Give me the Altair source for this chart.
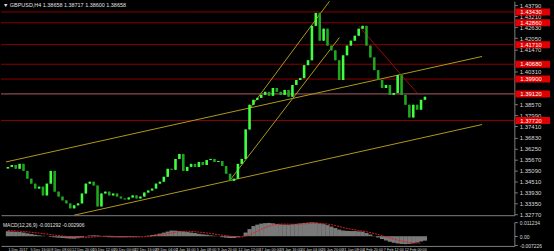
import altair as alt
import pandas as pd

# ---------------- data ----------------
closes = [1.3528, 1.3538, 1.3518, 1.3544, 1.3507, 1.3466, 1.3440, 1.3414, 1.3424, 1.3378,
          1.3440, 1.3507, 1.3398, 1.3372, 1.3352, 1.3336, 1.3310, 1.3326, 1.3336, 1.3388,
          1.3440, 1.3450, 1.3430, 1.3320, 1.3388, 1.3398, 1.3378, 1.3388, 1.3372, 1.3362,
          1.3357, 1.3367, 1.3378, 1.3362, 1.3372, 1.3393, 1.3404, 1.3414, 1.3440, 1.3450,
          1.3476, 1.3518, 1.3513, 1.3570, 1.3596, 1.3507, 1.3528, 1.3544, 1.3528, 1.3554,
          1.3538, 1.3564, 1.3570, 1.3554, 1.3559, 1.3533, 1.3492, 1.3455, 1.3466, 1.3544,
          1.3570, 1.3725, 1.3855, 1.3881, 1.3891, 1.3907, 1.3923, 1.3902, 1.3943, 1.3923,
          1.3907, 1.3933, 1.3897, 1.3959, 1.3985, 1.3995, 1.4063, 1.4089, 1.4270, 1.4338,
          1.4192, 1.4255, 1.4166, 1.4141, 1.4089, 1.3985, 1.4115, 1.4166, 1.4192, 1.4218,
          1.4255, 1.4270, 1.4166, 1.4104, 1.4037, 1.3985, 1.3943, 1.3959, 1.3907, 1.3917,
          1.4011, 1.3907, 1.3855, 1.3788, 1.3855, 1.3829, 1.3881, 1.3897]
first_open = 1.3520
bar_step = 3

macd_hist = [0.00390, 0.00374, 0.00350, 0.00334, 0.00295, 0.00231, 0.00175, 0.00119, 0.00072, 0.00032,
             -0.00008, -0.00048, -0.00088, -0.00119, -0.00143, -0.00167, -0.00191, -0.00199, -0.00159, -0.00103,
             -0.00024, 0.00056, 0.00072, 0.00056, 0.00016, -0.00048, -0.00080, -0.00088, -0.00088, -0.00088,
             -0.00080, -0.00064, -0.00056, -0.00048, -0.00024, 0.00000, 0.00040, 0.00096, 0.00135, 0.00207,
             0.00287, 0.00374, 0.00454, 0.00446, 0.00414, 0.00382, 0.00334, 0.00295, 0.00255, 0.00191,
             0.00151, 0.00119, 0.00072, 0.00032, -0.00008, -0.00080, -0.00119, -0.00143, -0.00143, -0.00080,
             0.00016, 0.00295, 0.00573, 0.00812, 0.00931, 0.01011, 0.01051, 0.01067, 0.01035, 0.00987,
             0.00947, 0.00931, 0.00923, 0.00955, 0.00987, 0.01027, 0.01067, 0.01091, 0.01114, 0.01091,
             0.01027, 0.00971, 0.00892, 0.00772, 0.00653, 0.00533, 0.00454, 0.00430, 0.00414, 0.00414,
             0.00390, 0.00366, 0.00255, 0.00135, 0.00016, -0.00103, -0.00223, -0.00342, -0.00446, -0.00525,
             -0.00581, -0.00621, -0.00637, -0.00621, -0.00565, -0.00501, -0.00422, -0.00358]
signal_step = 6
macd_signal = [0.0045, 0.0042, 0.0038, 0.0032, 0.0025, 0.0017, 0.0009, 0.0002, -0.0005, -0.0010,
               -0.0011, -0.0006, 0.0000, 0.0001, -0.0003, -0.0006, -0.0007, -0.0006, -0.0002, 0.0005,
               0.0014, 0.0026, 0.0036, 0.0040, 0.0036, 0.0030, 0.0022, 0.0013, 0.0004, -0.0004,
               -0.0006, 0.0010, 0.0040, 0.0070, 0.0090, 0.0098, 0.0097, 0.0096, 0.0099, 0.0103,
               0.0104, 0.0098, 0.0086, 0.0070, 0.0056, 0.0046, 0.0036, 0.0022, 0.0005, -0.0014,
               -0.0032, -0.0046, -0.0054, -0.0055]

level_prices = [1.4343, 1.4286, 1.4171, 1.4068, 1.3990, 1.3912, 1.3772]
level_kinds = ["dark", "dark", "dark", "dark", "dark", "light", "dark"]

# price scale labels (the ones hidden under the level boxes are left out)
price_ticks = [1.43790, 1.43210, 1.42630, 1.42050, 1.41470, 1.40310, 1.38570,
               1.37990, 1.37410, 1.36830, 1.36250, 1.35670, 1.35090, 1.34510, 1.33930, 1.33350, 1.32770]

time_tick_bars = [0, 17, 33, 49, 65, 81, 97, 113, 129, 145, 161, 177, 193, 209, 225, 241, 257, 273, 289, 305]
time_labels = ["1 Dec 2017", "5 Dec 16:00", "8 Dec 08:00", "12 Dec 20:00", "15 Dec 12:00", "20 Dec 00:00",
               "22 Dec 16:00", "28 Dec 04:00", "2 Jan 16:00", "5 Jan 08:00", "9 Jan 20:00", "12 Jan 12:00",
               "17 Jan 00:00", "19 Jan 16:00", "24 Jan 04:00", "26 Jan 20:00", "31 Jan 08:00", "4 Feb 20:00",
               "7 Feb 12:00", "12 Feb 00:00"]

line_names = ["upper", "lower", "steepA", "steepB", "diag"]
line_bar0 = [-1.5, 50.9, 170.6, 185.5, 270.0]
line_price0 = [1.3554, 1.3274, 1.3455, 1.3829, 1.4270]
line_bar1 = [365.0, 365.0, 255.1, 247.6, 314.9]
line_price1 = [1.4109, 1.3751, 1.4208, 1.4400, 1.3917]
line_kinds = ["trend", "trend", "trend", "trend", "red"]

macd_ticks = [0.0112, 0.0, -0.0072]
macd_tick_labels = ["0.011234", "0.00", "-0.007226"]

title_text = "\u25BC GBPUSD,H4  1.38658 1.38717 1.38600 1.38658"
macd_title = "MACD(12,26,9) -0.001292 -0.002906"

# ---------------- tables ----------------
W = 518
FONT = "Liberation Sans"
AX = "#808080"
xs = alt.Scale(domain=[-1.5, 386.0], nice=False, zero=False)
ys = alt.Scale(domain=[1.3274, 1.4400], nice=False, zero=False)
ms = alt.Scale(domain=[-0.0078, 0.0113], nice=False, zero=False)

cd = pd.DataFrame({"bar": [bar_step * i for i in range(len(closes))], "close": closes})
cd["open"] = [first_open] + closes[:-1]
cd["dir"] = ["up" if c >= o else "down" for c, o in zip(cd["close"], cd["open"])]
cd_up = cd[cd["dir"] == "up"]
cd_dn = cd[cd["dir"] == "down"]

lv = pd.DataFrame({"price": level_prices, "kind": level_kinds})
lv["label"] = [f"{p:.5f}" for p in level_prices]

rows = []
for n, b0, p0, b1, p1, k in zip(line_names, line_bar0, line_price0, line_bar1, line_price1, line_kinds):
    rows.append({"name": n, "bar": b0, "price": p0, "o": 0, "kind": k})
    rows.append({"name": n, "bar": b1, "price": p1, "o": 1, "kind": k})
ln = pd.DataFrame(rows)

hd = pd.DataFrame({"bar": [bar_step * i for i in range(len(macd_hist))], "v": macd_hist})
sd = pd.DataFrame({"bar": [signal_step * i for i in range(len(macd_signal))], "v": macd_signal})

x_hidden = alt.Axis(labels=False, ticks=False, domain=True, domainColor=AX, grid=False, title=None)
y_price_axis = alt.Axis(orient="right", values=price_ticks, format=".5f", labelFontSize=6, labelFont=FONT,
                        labelColor="#d8d8d8", tickColor=AX, tickSize=3, domainColor=AX, grid=False,
                        title=None, labelPadding=2, labelBaseline="middle")

X = alt.X("bar:Q", scale=xs, axis=x_hidden)
Y = alt.Y("price:Q", scale=ys, axis=y_price_axis)

lv_dark = lv[lv["kind"] == "dark"]
lv_light = lv[lv["kind"] == "light"]
levels_dark = alt.Chart(lv_dark).mark_rule(strokeWidth=1, color="#8a0000").encode(y=Y)
levels_light = alt.Chart(lv_light).mark_rule(strokeWidth=1, color="#b45a66").encode(y=Y)

trend = alt.Chart(ln[ln["kind"] == "trend"]).mark_line(strokeWidth=1, clip=True, color="#b09a1c").encode(
    x=X, y=Y, detail="name:N", order="o:Q")
redline = alt.Chart(ln[ln["kind"] == "red"]).mark_line(strokeWidth=1, clip=True, color="#9a0a0a").encode(
    x=X, y=Y, detail="name:N", order="o:Q")

YO = alt.Y("open:Q", scale=ys, axis=y_price_axis)
up_c = alt.Chart(cd_up).mark_bar(size=2.6, color="#40ff40").encode(x=X, y=YO, y2="close:Q")
dn_c = alt.Chart(cd_dn).mark_bar(size=2.6, color="#1fa81f").encode(x=X, y=YO, y2="close:Q")
up_w = alt.Chart(cd_up).mark_rule(strokeWidth=1, color="#40ff40").encode(x=X, y=YO, y2="close:Q")
dn_w = alt.Chart(cd_dn).mark_rule(strokeWidth=1, color="#1fa81f").encode(x=X, y=YO, y2="close:Q")

level_boxes = alt.Chart(lv).mark_rule(strokeWidth=7, color="#e00000").encode(
    x=alt.value(519), x2=alt.value(554), y=Y,
)
level_text = alt.Chart(lv).mark_text(align="left", baseline="middle", fontSize=6, font=FONT, color="#ffffff").encode(
    x=alt.value(524), y=Y, text="label:N",
)

title = alt.Chart(pd.DataFrame({"t": [title_text]})).mark_text(
    align="left", baseline="middle", fontSize=5.5, font=FONT, color="#e0e0e0"
).encode(x=alt.value(2), y=alt.value(4), text="t:N")

price_panel = alt.layer(levels_dark, levels_light, trend, redline, up_w, dn_w, up_c, dn_c,
                        level_boxes, level_text, title).properties(width=W, height=216)

# ---------------- MACD panel ----------------
x_time_axis = alt.Axis(values=time_tick_bars, grid=False, title=None, domainColor=AX, ticks=False,
                       labelFontSize=3.8, labelFont=FONT, labelColor="#d8d8d8", labelAlign="left",
                       labelBaseline="top", labelPadding=2, labelFlush=False, labelOverlap=False,
                       labelExpr="[" + ",".join("'" + t + "'" for t in time_labels) + "][indexof(["
                       + ",".join(str(b) for b in time_tick_bars) + "], datum.value)]")
y_macd_axis = alt.Axis(orient="right", values=macd_ticks, grid=False, title=None, domainColor=AX, tickColor=AX,
                       tickSize=3, labelFontSize=5, labelFont=FONT, labelColor="#d8d8d8", labelPadding=2,
                       labelExpr="[" + ",".join("'" + t + "'" for t in macd_tick_labels) + "][indexof(["
                       + ",".join(repr(v) for v in macd_ticks) + "], datum.value)]")
XM = alt.X("bar:Q", scale=xs, axis=x_time_axis)
YM = alt.Y("v:Q", scale=ms, axis=y_macd_axis)

hist = alt.Chart(hd).mark_bar(size=4.2, color="#7a7a7a").encode(x=XM, y=YM, y2=alt.datum(0))
sig = alt.Chart(sd).mark_line(color="#e02020", strokeWidth=1, strokeDash=[2, 1]).encode(x=XM, y=YM)
mtitle = alt.Chart(pd.DataFrame({"t": [macd_title]})).mark_text(
    align="left", baseline="middle", fontSize=5, font=FONT, color="#e0e0e0"
).encode(x=alt.value(2), y=alt.value(3), text="t:N")

macd_panel = alt.layer(hist, sig, mtitle).properties(width=W, height=24)

chart = alt.vconcat(price_panel, macd_panel, spacing=2).properties(
    background="#000000", padding=0
).configure_view(strokeWidth=0)

chart.save("out.html", embed_options={"renderer": "svg", "actions": False})
